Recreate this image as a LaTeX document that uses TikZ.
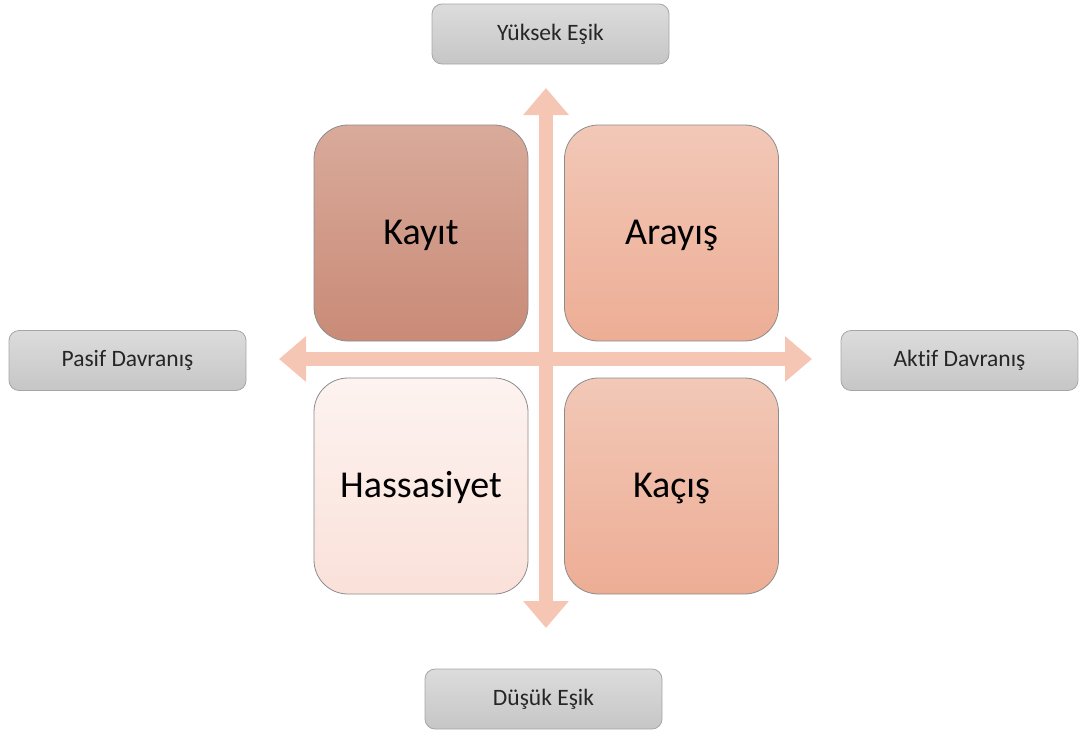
\documentclass[tikz,border=0pt]{standalone}
\usepackage{fontspec}
\setmainfont{Carlito}[Ligatures={NoCommon}]
\usetikzlibrary{arrows.meta}
\definecolor{axiscol}{HTML}{F5C6B4}
\definecolor{kayitT}{HTML}{D9AA9A}
\definecolor{kayitB}{HTML}{C98B77}
\definecolor{arayT}{HTML}{F2C8B7}
\definecolor{arayB}{HTML}{EDAD95}
\definecolor{hassT}{HTML}{FDF3F0}
\definecolor{hassB}{HTML}{FAE1D9}
\definecolor{grayT}{HTML}{DCDCDC}
\definecolor{grayB}{HTML}{C6C6C6}
\definecolor{grayline}{HTML}{A6A6A6}
\definecolor{quadline}{HTML}{8C8C8C}
\definecolor{labeltext}{HTML}{262626}
\tikzset{
  quad/.style={draw=quadline, line width=0.8pt, rounded corners=34pt,
    minimum width=214pt, minimum height=216pt, inner sep=0pt,
    text height=28pt, text depth=6pt,
    font=\fontsize{38}{42}\selectfont, text=black},
  axlabel/.style={draw=grayline, line width=0.8pt, rounded corners=10pt,
    top color=grayT, bottom color=grayB,
    minimum width=237pt, minimum height=60pt, inner sep=0pt,
    font=\fontsize{23.5}{26}\selectfont, text=labeltext},
  axisarrow/.style={draw=axiscol, line width=14pt,
    {Triangle[width=44pt,length=27pt]}-{Triangle[width=44pt,length=27pt]}}
}
\begin{document}
\begin{tikzpicture}[x=1pt,y=-1pt]
\useasboundingbox (0,0) rectangle (1079,731);
% axes
\coordinate (top) at (546,88);
\coordinate (bot) at (546,628);
\coordinate (lft) at (279,359);
\coordinate (rgt) at (812,359);
\draw[axisarrow] (bot) -- (top);
\draw[axisarrow] (lft) -- (rgt);
% quadrants
\node[quad, top color=kayitT, bottom color=kayitB] (kayit) at (421,233) {Kayıt};
\node[quad, top color=arayT, bottom color=arayB] (arayis) at (671.5,233) {Arayış};
\node[quad, top color=hassT, bottom color=hassB] (hass) at (421,486) {Hassasiyet};
\node[quad, top color=arayT, bottom color=arayB] (kacis) at (671.5,486) {Kaçış};
% axis labels
\node[axlabel] (yuksek) at (550.5,34) {Yüksek Eşik};
\node[axlabel] (dusuk) at (543.5,699) {Düşük Eşik};
\node[axlabel] (pasif) at (127.5,360.5) {Pasif Davranış};
\node[axlabel] (aktif) at (959.5,360.5) {Aktif Davranış};
\end{tikzpicture}
\end{document}
